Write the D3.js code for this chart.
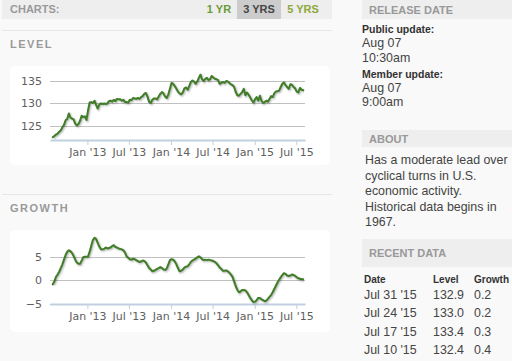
<!DOCTYPE html>
<html><head><meta charset="utf-8">
<script src="https://cdn.jsdelivr.net/npm/d3@7"></script>
<style>
html,body{margin:0;padding:0;background:#f9f9f9;}
svg{display:block;}
</style></head>
<body><svg id="c" width="512" height="361"></svg>
<script>
// ---- data ----
const startDate = "2012-08-03"; // first weekly observation (Friday)
const levelValues = [
122.6,122.9,123.2,123.4,123.8,124.1,124.8,125.3,126.3,126.6,
127.8,126.9,126.7,126.5,125.6,125.2,125.5,126.2,127.3,127.0,
127.2,126.4,128.5,130.2,130.3,130.1,130.6,129.7,128.9,129.8,
130.0,129.9,130.0,129.9,130.0,130.5,130.6,130.4,130.8,130.5,
131.0,130.9,130.9,130.6,130.8,130.3,130.3,130.2,130.8,130.7,
131.2,131.1,131.0,131.2,131.0,131.4,131.6,132.1,132.3,131.5,
130.4,130.1,130.8,131.1,131.1,130.9,131.5,132.1,132.5,132.2,
131.5,131.2,132.0,133.2,134.5,134.3,133.8,133.2,132.6,132.2,
132.0,132.4,133.3,133.5,133.0,133.8,134.7,135.0,134.8,134.3,
134.8,135.6,136.3,135.3,134.9,135.4,135.6,135.1,135.3,136.0,
135.7,135.4,135.3,135.1,134.3,134.5,134.7,134.5,134.9,134.8,
134.5,134.2,134.0,133.6,132.5,131.8,131.7,132.1,132.5,133.2,
131.8,132.4,131.9,131.3,130.7,130.2,130.9,131.4,130.6,131.7,
130.6,130.1,130.3,130.6,130.4,131.0,131.6,131.4,132.2,132.6,
132.7,132.8,133.6,134.3,134.6,134.0,133.6,133.2,134.2,134.1,
133.6,133.3,132.6,132.4,133.4,133.0,132.9];
const growthValues = [
-0.9,-0.3,0.7,1.2,1.8,2.6,3.4,4.4,5.4,6.1,
6.4,6.2,5.8,5.2,4.4,3.8,3.5,3.5,4.2,4.9,
5.0,5.0,5.1,6.1,7.4,8.6,9.1,8.8,8.0,7.2,
6.6,6.6,6.7,7.0,6.8,6.9,7.0,7.3,7.5,7.1,
7.0,6.8,6.7,6.6,6.4,5.9,5.1,4.8,4.5,4.4,
4.6,4.5,4.3,4.1,3.9,4.0,4.2,4.1,3.8,3.2,
2.6,2.3,1.9,2.0,2.2,2.4,2.6,2.8,2.6,2.3,
2.2,2.5,3.4,4.3,4.5,4.4,4.0,3.4,2.6,1.9,
2.0,2.3,2.7,2.9,3.0,3.4,3.9,4.2,4.4,4.6,
4.9,5.1,4.9,4.5,4.3,4.4,4.3,4.4,4.3,4.2,
4.1,3.9,3.6,3.2,2.7,2.4,2.0,2.0,2.1,1.9,
1.6,1.2,0.7,-0.3,-1.3,-2.1,-2.6,-2.4,-2.1,-2.1,
-2.2,-2.6,-3.2,-3.8,-4.3,-4.7,-4.6,-4.3,-3.8,-3.8,
-4.1,-4.3,-4.5,-4.4,-4.0,-3.6,-3.2,-2.6,-1.9,-1.2,
-0.5,0.1,0.6,1.1,1.5,1.3,1.0,0.9,1.0,1.2,
1.1,0.9,0.6,0.4,0.3,0.2,0.2];
const levelTicks = [125,130,135];
const growthTicks = [-5,0,5];
const xTickDates = ["2013-01-01","2013-07-01","2014-01-01","2014-07-01","2015-01-01","2015-07-01"];
const rangeButtons = ["1 YR","3 YRS","5 YRS"];
const recentDates = ["Jul 31 '15","Jul 24 '15","Jul 17 '15","Jul 10 '15"];
const recentLevel = ["132.9","133.0","133.4","132.4"];
const recentGrowth = ["0.2","0.2","0.3","0.4"];
const aboutLines = ["Has a moderate lead over","cyclical turns in U.S.","economic activity.","Historical data begins in","1967."];

// ---- build ----
const parse = d3.timeParse("%Y-%m-%d");
const t0 = parse(startDate);
const dates = levelValues.map((_, i) => d3.timeDay.offset(t0, 7 * i));
const svg = d3.select("#c");
const hc = "'DejaVu Sans', Verdana, sans-serif";
const ar = "'Liberation Sans', Arial, sans-serif";
const green = "#3f7d26";

// header bar
svg.append("rect").attr("x",2).attr("y",0).attr("width",330).attr("height",19).attr("fill","#eeeeee");
svg.append("text").attr("x",10).attr("y",13).text("CHARTS:")
  .attr("font-family",ar).attr("font-size",11).attr("font-weight","bold").attr("fill","#999");
const btnX = [219, 259, 303];
svg.append("rect").attr("x",237).attr("y",0).attr("width",44).attr("height",19).attr("fill","#cccccc");
rangeButtons.forEach((b,i)=>{
  svg.append("text").attr("x",btnX[i]).attr("y",13).attr("text-anchor","middle").text(b)
    .attr("font-family",ar).attr("font-size",11).attr("font-weight","bold")
    .attr("fill", i===1 ? "#444" : (i===0 ? "#6b9b3a" : "#8fa83a"));
});
svg.append("line").attr("x1",2).attr("x2",332).attr("y1",30.5).attr("y2",30.5).attr("stroke","#e6e6e6");
svg.append("text").attr("x",10).attr("y",48).text("LEVEL")
  .attr("font-family",ar).attr("font-size",11).attr("font-weight","bold").attr("fill","#999").attr("letter-spacing",1.5);
svg.append("line").attr("x1",2).attr("x2",332).attr("y1",194.5).attr("y2",194.5).attr("stroke","#e6e6e6");
svg.append("text").attr("x",10).attr("y",212).text("GROWTH")
  .attr("font-family",ar).attr("font-size",11).attr("font-weight","bold").attr("fill","#999").attr("letter-spacing",1.5);

const x = d3.scaleTime().domain([parse("2012-07-22"), parse("2015-08-08")]).range([50, 305]);

function drawChart(boxY, boxH, values, yScale, ticks, axisY) {
  svg.append("rect").attr("x",10).attr("y",boxY).attr("width",320).attr("height",boxH)
    .attr("rx",5).attr("fill","#fff");
  const g = svg.append("g");
  ticks.forEach(t=>{
    g.append("line").attr("x1",50).attr("x2",305).attr("y1",Math.round(yScale(t))+0.5).attr("y2",Math.round(yScale(t))+0.5)
      .attr("stroke","#c0c0c0");
    g.append("text").attr("x",42).attr("y",yScale(t)+4).attr("text-anchor","end").text(t < 0 ? "\u2212" + (-t) : t)
      .attr("font-family",hc).attr("font-size",11).attr("fill","#606060");
  });
  // x axis
  const xa = d3.axisBottom(x).tickValues(xTickDates.map(parse)).tickFormat(d3.timeFormat("%b '%y")).tickSize(5).tickSizeOuter(0);
  const ag = g.append("g").attr("transform",`translate(0,${axisY})`).call(xa);
  ag.select(".domain").attr("stroke","#c0d0e0").attr("stroke-width",2);
  ag.selectAll(".tick line").attr("stroke","#c0d0e0");
  ag.selectAll("text").attr("font-family",hc).attr("font-size",11).attr("fill","#606060");
  const line = d3.line().x((d,i)=>x(dates[i])).y(d=>yScale(d)).curve(d3.curveLinear);
  const dstr = line(values);
  [[5,0.05],[3,0.1],[1,0.15]].forEach(([w,o])=>{
    g.append("path").attr("d",dstr).attr("transform","translate(1,1)").attr("fill","none")
      .attr("stroke","#000").attr("stroke-opacity",o).attr("stroke-width",w).attr("stroke-linejoin","round");
  });
  g.append("path").attr("d",dstr).attr("fill","none").attr("stroke",green).attr("stroke-width",2)
    .attr("stroke-linejoin","round").attr("stroke-linecap","round");
}

const yLevel = d3.scaleLinear().domain([122,137.5]).range([140,69.2]);
drawChart(66, 99, levelValues, yLevel, levelTicks, 140);
const yGrowth = d3.scaleLinear().domain([-5,10]).range([303.5,233.5]);
drawChart(230, 102, growthValues, yGrowth, growthTicks, 304);

// right panel
function bar(y, h, label) {
  svg.append("rect").attr("x",362).attr("y",y).attr("width",150).attr("height",h).attr("fill","#eeeeee");
  svg.append("text").attr("x",369).attr("y",y+h/2+4).text(label)
    .attr("font-family",ar).attr("font-size",11).attr("font-weight","bold").attr("fill","#999");
}
bar(0, 19, "RELEASE DATE");
const rp = [["Public update:",33,true],["Aug 07",47,false],["10:30am",62,false],["Member update:",78,true],["Aug 07",92,false],["9:00am",106,false]];
rp.forEach(([t,y,b])=>{
  svg.append("text").attr("x",362).attr("y",y).text(t).attr("font-family",ar)
    .attr("font-size", b ? 10.5 : 12.4).attr("font-weight", b ? "bold" : "normal").attr("fill", b ? "#333" : "#444");
});
bar(130, 17, "ABOUT");
aboutLines.forEach((l,i)=>{
  svg.append("text").attr("x",365).attr("y",164 + i*15.5).text(l)
    .attr("font-family",ar).attr("font-size",12.4).attr("fill","#444");
});
bar(239, 28, "RECENT DATA");
const cols = [364, 433, 474];
["Date","Level","Growth"].forEach((h,i)=>{
  svg.append("text").attr("x",cols[i]).attr("y",283).text(h)
    .attr("font-family",ar).attr("font-size",10).attr("font-weight","bold").attr("fill","#333");
});
recentDates.forEach((d,i)=>{
  const y = 299 + i*18.3;
  [d, recentLevel[i], recentGrowth[i]].forEach((v,j)=>{
    svg.append("text").attr("x",cols[j]).attr("y",y).text(v)
      .attr("font-family",ar).attr("font-size",12.4).attr("fill","#444");
  });
});
</script>
</body></html>
